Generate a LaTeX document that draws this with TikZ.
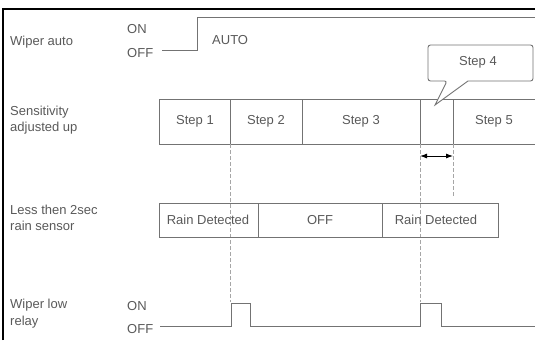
\documentclass[tikz,border=0pt]{standalone}
\usepackage{fontspec}
\setmainfont{Liberation Sans}
\usetikzlibrary{arrows.meta}

\begin{document}
\begin{tikzpicture}[x=1pt,y=-1pt,font=\fontsize{13}{15}\selectfont,
  sig/.style={draw=black!55,line width=.9pt},
  guide/.style={draw=black!35,line width=.5pt,dash pattern=on 4pt off 2pt},
  lbl/.style={anchor=west,text=black!65,inner sep=0pt},
  cell/.style={text=black!65,inner sep=0pt}]
\useasboundingbox (0,0) rectangle (535,340);
\draw[line width=2pt] (3,340) -- (3,9) -- (535,9);
% wiper auto
\node[lbl] (autolbl) at (10,42) {Wiper auto};
\node[lbl] (autoon) at (127,29) {ON};
\node[lbl] (autooff) at (127,53) {OFF};
\draw[sig] (162,50) -- (197,50) -- (197,17) -- (535,17);
\node[lbl] (autotxt) at (212,40) {AUTO};
% sensitivity
\node[lbl] (senslbl) at (10,112) {Sensitivity};
\node[lbl] (senslbl2) at (10,128) {adjusted up};
\draw[sig] (535,99) -- (159,99) -- (159,144) -- (535,144);
\draw[sig] (230,99) -- (230,144);
\draw[sig] (302,99) -- (302,144);
\draw[sig] (420,99) -- (420,144);
\draw[sig] (453,99) -- (453,144);
\node[cell] (step1) at (195,121) {Step 1};
\node[cell] (step2) at (266,121) {Step 2};
\node[cell] (step3) at (361,121) {Step 3};
\node[cell] (step5) at (494,121) {Step 5};
\path[sig,fill=white] (447,81) -- (435,105) -- (468,81) [rounded corners=2.5pt] -- (533,81) -- (533,45) -- (428,45) -- (428,81) -- cycle;
\node[cell] (step4) at (478,62) {Step 4};
% guides
\draw[guide] (230,144) -- (230,302);
\draw[guide] (420,144) -- (420,302);
\draw[guide] (453,144) -- (453,196);
\draw[line width=.9pt,{Latex[length=7pt,width=5pt]}-{Latex[length=7pt,width=5pt]}] (420,156) -- (453,156);
% rain sensor
\node[lbl] (rainlbl) at (10,210) {Less then 2sec};
\node[lbl] (rainlbl2) at (10,226) {rain sensor};
\draw[sig] (159,203) rectangle (498,237);
\draw[sig] (258,203) -- (258,237);
\draw[sig] (382,203) -- (382,237);
\node[cell] (rain1) at (208,220) {Rain Detected};
\node[cell] (rainoff) at (320,220) {OFF};
\node[cell] (rain2) at (436,220) {Rain Detected};
% wiper low relay
\node[lbl] (relaylbl) at (10,305) {Wiper low};
\node[lbl] (relaylbl2) at (10,322) {relay};
\node[lbl] (relayon) at (127,306) {ON};
\node[lbl] (relayoff) at (127,329) {OFF};
\draw[sig] (160,326) -- (231,326) -- (231,303) -- (250,303) -- (250,326) -- (420,326) -- (420,303) -- (441,303) -- (441,326) -- (535,326);
\end{tikzpicture}
\end{document}
